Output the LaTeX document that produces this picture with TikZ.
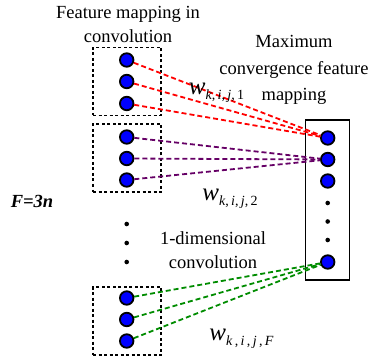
\documentclass[tikz,border=0pt]{standalone}
\usepackage{fontspec}
\setmainfont{Liberation Serif}
\usetikzlibrary{positioning}

\newcommand{\wt}[1]{{\fontsize{25}{25}\selectfont\textit{w}}\raisebox{-5pt}{\fontsize{14}{14}\selectfont #1}}

\begin{document}
\begin{tikzpicture}[x=1pt,y=-1pt,font=\fontsize{18.5}{24}\selectfont,
  unit/.style={circle,draw,line width=1.8pt,fill=blue,inner sep=0pt,minimum size=13.5pt},
  pt/.style={circle,fill=black,inner sep=0pt,minimum size=4.6pt},
  grp/.style={draw,dashed,line width=1.6pt,dash pattern=on 3pt off 2.5pt,minimum width=68pt,minimum height=68pt,inner sep=0pt},
  wire/.style={line width=1.8pt,dash pattern=on 5pt off 3pt},
  lbl/.style={align=center,inner sep=0pt}]
\useasboundingbox (0,0) rectangle (369,358);
% input groups
\node[grp] (G1) at (127,81.5) {};
\node[grp] (G2) at (127,158) {};
\node[grp] (G3) at (127,321) {};
\node[unit] (a1) at (126.7,60) {};
\node[unit] (a2) at (126.7,81.5) {};
\node[unit] (a3) at (126.7,103.5) {};
\node[unit] (b1) at (126.7,137) {};
\node[unit] (b2) at (126.7,158.5) {};
\node[unit] (b3) at (126.7,180) {};
\node[unit] (c1) at (126.7,298) {};
\node[unit] (c2) at (126.7,319.5) {};
\node[unit] (c3) at (126.7,341) {};
\node[pt] (d1) at (126.7,224) {};
\node[pt] (d2) at (126.7,243) {};
\node[pt] (d3) at (126.7,262) {};
% pooled column
\node[draw,line width=1.8pt,minimum width=44pt,minimum height=160pt,inner sep=0pt] (M) at (327.5,200) {};
\node[unit] (m1) at (327.7,138) {};
\node[unit] (m2) at (327.7,159.5) {};
\node[unit] (m3) at (327.7,181) {};
\node[pt] (e1) at (327.7,203) {};
\node[pt] (e2) at (327.7,221.5) {};
\node[pt] (e3) at (327.7,240) {};
\node[unit] (m4) at (327.7,262) {};
% weights
\draw[wire,red] (a1) -- (m1);
\draw[wire,red] (a2) -- (m1);
\draw[wire,red] (a3) -- (m1);
\draw[wire,violet!80!black] (b1) -- (m2);
\draw[wire,violet!80!black] (b2) -- (m2);
\draw[wire,violet!80!black] (b3) -- (m2);
\draw[wire,green!55!black] (c1) -- (m4);
\draw[wire,green!55!black] (c2) -- (m4);
\draw[wire,green!55!black] (c3) -- (m4);
% labels
\node[lbl] (tin) at (128,24) {Feature mapping in\\convolution};
\node[lbl,font=\fontsize{18.5}{26.5}\selectfont] (tout) at (294,70) {Maximum\\convergence feature\\mapping};
\node[lbl] (t1d) at (213,250) {1-dimensional\\convolution};
\node[lbl] (F) at (32,201) {\textbf{\textit{F=3n}}};
\node[lbl] (w1) at (216.5,93) {\wt{\textit{k},\,\textit{i},\,\textit{j},\,1}};
\node[lbl] (w2) at (230,199) {\wt{\textit{k},\,\textit{i},\,\textit{j},\,2}};
\node[lbl] (wF) at (241.5,339) {\wt{\textit{k}\,,\,\textit{i}\,,\,\textit{j}\,,\,\textit{F}}};
\end{tikzpicture}
\end{document}
